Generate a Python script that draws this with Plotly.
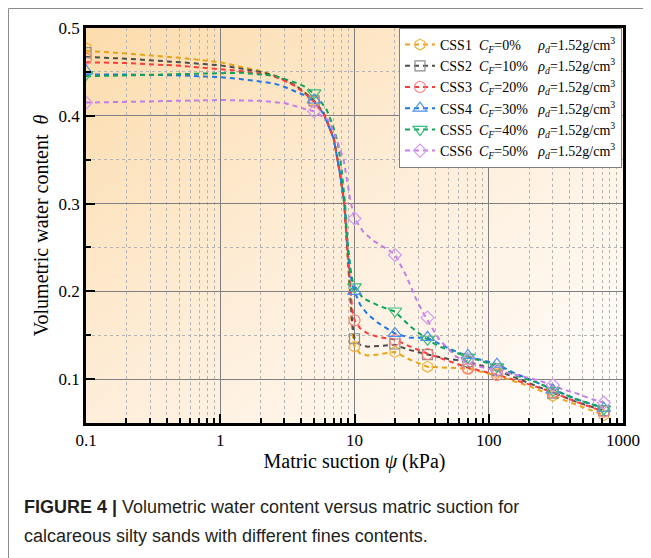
import base64
import plotly.graph_objects as go

# ---------------- data ----------------
series_names = ["CSS1", "CSS2", "CSS3", "CSS4", "CSS5", "CSS6"]
fines = ["0%", "10%", "20%", "30%", "40%", "50%"]

# measured points
x_pts = [0.1, 5, 10, 20, 35, 70, 115, 300, 720]
pts_css1 = [0.477, 0.418, 0.137, 0.131, 0.114, 0.112, 0.107, 0.081, 0.059]
pts_css2 = [0.472, 0.417, 0.146, 0.140, 0.128, 0.120, 0.110, 0.084, 0.064]
pts_css3 = [0.465, 0.416, 0.167, 0.1445, 0.1286, 0.112, 0.1047, 0.085, 0.063]
pts_css4 = [0.451, 0.418, 0.200, 0.152, 0.1476, 0.127, 0.117, 0.0876, 0.0668]
pts_css5 = [0.447, 0.426, 0.205, 0.1776, 0.1454, 0.125, 0.114, 0.087, 0.066]
pts_css6 = [0.415, 0.405, 0.283, 0.2414, 0.170, 0.1226, 0.110, 0.0933, 0.0731]

# fitted curves
x_fit_a = [0.1, 0.2, 0.5, 1, 1.4, 2, 2.5, 3, 3.6, 4.3, 5, 5.9, 7, 7.8, 8.4, 8.75,
           9.0, 9.3, 9.6, 10, 11, 12.5, 15, 20, 26, 35, 50, 70, 115, 150, 200, 300, 450, 720]
fit_css1 = [0.474, 0.471, 0.466, 0.461, 0.456, 0.451, 0.446, 0.441, 0.435, 0.426, 0.417, 0.403,
            0.375, 0.334, 0.300, 0.258, 0.230, 0.190, 0.155, 0.137, 0.129, 0.127, 0.128, 0.131,
            0.122, 0.114, 0.113, 0.112, 0.104, 0.098, 0.092, 0.081, 0.071, 0.059]
fit_css2 = [0.467, 0.465, 0.461, 0.4575, 0.454, 0.450, 0.446, 0.441, 0.435, 0.426, 0.417, 0.403,
            0.375, 0.334, 0.300, 0.258, 0.232, 0.200, 0.165, 0.146, 0.139, 0.137, 0.138, 0.139,
            0.133, 0.128, 0.123, 0.120, 0.110, 0.103, 0.095, 0.084, 0.074, 0.064]
fit_css3 = [0.461, 0.460, 0.457, 0.4535, 0.451, 0.448, 0.445, 0.440, 0.434, 0.425, 0.416, 0.402,
            0.374, 0.334, 0.300, 0.258, 0.235, 0.205, 0.180, 0.167, 0.158, 0.152, 0.148, 0.145,
            0.137, 0.129, 0.121, 0.113, 0.105, 0.100, 0.094, 0.085, 0.074, 0.063]
fit_css4 = [0.447, 0.447, 0.446, 0.444, 0.442, 0.439, 0.437, 0.433, 0.428, 0.423, 0.416, 0.402,
            0.374, 0.334, 0.300, 0.258, 0.240, 0.222, 0.208, 0.200, 0.185, 0.174, 0.164, 0.152,
            0.147, 0.147, 0.135, 0.126, 0.117, 0.108, 0.100, 0.088, 0.077, 0.067]
x_fit_5 = [0.1, 0.2, 0.5, 1, 1.4, 2, 2.5, 3, 3.6, 4.3, 5, 5.5, 6.2, 6.9, 7.5, 8.0, 8.5, 8.85,
           9.1, 9.4, 9.7, 10, 11.6, 15.5, 20, 26, 35, 43, 64, 115, 160, 230, 300, 450, 720]
fit_css5 = [0.445, 0.446, 0.447, 0.448, 0.449, 0.447, 0.446, 0.442, 0.438, 0.433, 0.425, 0.418,
            0.407, 0.389, 0.370, 0.340, 0.300, 0.258, 0.238, 0.222, 0.211, 0.205, 0.192, 0.183,
            0.177, 0.160, 0.145, 0.137, 0.1275, 0.115, 0.104, 0.096, 0.088, 0.077, 0.067]
x_fit_6 = [0.1, 0.3, 1, 2, 3, 3.8, 5, 6.4, 7.4, 8.3, 8.8, 9.3, 10, 11.6, 13.7, 16, 20, 24.4, 29,
           34, 43, 57, 68, 86, 115, 145, 230, 300, 360, 450, 565, 720]
fit_css6 = [0.415, 0.4165, 0.418, 0.417, 0.4145, 0.410, 0.405, 0.395, 0.372, 0.350, 0.327, 0.304,
            0.283, 0.268, 0.258, 0.252, 0.2425, 0.217, 0.190, 0.170, 0.1445, 0.1256, 0.121, 0.114,
            0.110, 0.1066, 0.099, 0.093, 0.088, 0.0838, 0.078, 0.073]

x_tick_vals = [0.1, 1, 10, 100, 1000]
x_tick_text = ["0.1", "1", "10", "100", "1000"]
y_tick_vals = [0.1, 0.2, 0.3, 0.4, 0.5]
y_tick_text = ["0.1", "0.2", "0.3", "0.4", "0.5"]

# ---------------- styles ----------------
line_colors = ["#E8A317", "#4D4D4D", "#FF3B3B", "#1F77E8", "#10A35A", "#C77DE8"]
marker_colors = ["#F2B33D", "#8C8C8C", "#FF7B7B", "#4A90F0", "#3DBB7A", "#D49BF0"]
symbols = ["hexagon-open", "square-open", "circle-open", "triangle-up-open",
           "triangle-down-open", "diamond-open"]
sizes = [11, 10, 11, 12, 12, 10]

pts_all = [pts_css1, pts_css2, pts_css3, pts_css4, pts_css5, pts_css6]
fit_x_all = [x_fit_a, x_fit_a, x_fit_a, x_fit_a, x_fit_5, x_fit_6]
fit_y_all = [fit_css1, fit_css2, fit_css3, fit_css4, fit_css5, fit_css6]

DASH = "5px,4px"
OFF = 8  # page body margin offset
W, H = 651 - OFF, 558 - OFF
L, R, T, B = 86 - OFF, 28, 28 - OFF, 558 - 423
PW, PH = W - L - R, H - T - B

fig = go.Figure()

svg = ("<svg xmlns='http://www.w3.org/2000/svg' width='537' height='395' preserveAspectRatio='none'>"
       "<defs><linearGradient id='g' x1='0' y1='0' x2='1' y2='1'>"
       "<stop offset='0' stop-color='#FCDCAC'/>"
       "<stop offset='0.5' stop-color='#FEEEDA'/>"
       "<stop offset='1' stop-color='#FFFFFF'/>"
       "</linearGradient></defs><rect width='537' height='395' fill='url(#g)'/></svg>")
img_src = "data:image/svg+xml;base64," + base64.b64encode(svg.encode()).decode()

for i in range(6):
    fig.add_trace(go.Scatter(x=fit_x_all[i], y=fit_y_all[i], mode="lines",
                             line=dict(color=line_colors[i], width=2, dash=DASH),
                             showlegend=False, hoverinfo="skip"))
for i in range(6):
    fig.add_trace(go.Scatter(x=x_pts, y=pts_all[i], mode="markers",
                             marker=dict(symbol=symbols[i], size=sizes[i], color=marker_colors[i],
                                         line=dict(width=1.2, color=marker_colors[i])),
                             showlegend=False))
for i in range(6):
    pad = "\u2002\u00a0\u00a0\u00a0" if len(fines[i]) == 2 else "\u00a0\u00a0\u00a0"
    label = (f"{series_names[i]}\u00a0\u00a0<i>C</i><sub><i>F</i></sub>={fines[i]}{pad}"
             f"<i>ρ</i><sub><i>d</i></sub>=1.52g/cm<sup>3</sup>")
    fig.add_trace(go.Scatter(x=[None], y=[None], mode="lines+markers", name=label,
                             line=dict(color=line_colors[i], width=2, dash=DASH),
                             marker=dict(symbol=symbols[i], size=sizes[i], color=marker_colors[i],
                                         line=dict(width=1.2, color=marker_colors[i]))))

minor_x = [m * 10 ** e for e in range(-1, 3) for m in range(2, 10)]
minor_y = [0.05, 0.15, 0.25, 0.35, 0.45]


def px2x(p):
    return (p - OFF - L) / PW


def px2y(p):
    return (H - B - (p - OFF)) / PH


fig.update_layout(
    width=W, height=H,
    margin=dict(l=L, r=R, t=T, b=B, autoexpand=False),
    paper_bgcolor="white", plot_bgcolor="white",
    font=dict(family="Liberation Serif, Times New Roman, serif", size=17, color="black"),
    legend=dict(x=px2x(399), y=1, xanchor="left", yanchor="top", bgcolor="white",
                bordercolor="#808080", borderwidth=1, font=dict(size=14),
                itemwidth=30, tracegroupgap=0),
    images=[dict(source=img_src, xref="paper", yref="paper", x=0, y=1, sizex=1, sizey=1,
                 xanchor="left", yanchor="top", sizing="stretch", layer="below")],
    xaxis=dict(type="log", range=[-1, 3], tickvals=x_tick_vals, ticktext=x_tick_text,
               ticks="inside", ticklen=9, tickwidth=2, tickcolor="black",
               showline=True, linewidth=2.5, linecolor="black", mirror=True,
               showgrid=True, gridcolor="#808080", gridwidth=1, zeroline=False,
               minor=dict(tickvals=minor_x, ticks="inside", ticklen=5, tickwidth=1.5,
                          tickcolor="black", showgrid=True, gridcolor="#B4B4B4",
                          griddash="3px,3px", gridwidth=1),
               title=dict(text="Matric suction <i>ψ</i> (kPa)", font=dict(size=20), standoff=3)),
    yaxis=dict(range=[0.05, 0.5], tickvals=y_tick_vals, ticktext=y_tick_text,
               ticks="inside", ticklen=9, tickwidth=2, tickcolor="black",
               showline=True, linewidth=2.5, linecolor="black", mirror=True,
               showgrid=True, gridcolor="#808080", gridwidth=1, zeroline=False,
               minor=dict(tickvals=minor_y, ticks="inside", ticklen=5, tickwidth=1.5,
                          tickcolor="black", showgrid=True, gridcolor="#B4B4B4",
                          griddash="3px,3px", gridwidth=1),
               title=dict(text="Volumetric water content\u00a0\u00a0<i>θ</i>", font=dict(size=20),
                          standoff=5)),
)

cap_font = dict(family="Liberation Sans, Arial, sans-serif", size=18, color="#231F20")
fig.add_annotation(x=px2x(22), y=px2y(507), xref="paper", yref="paper", xanchor="left",
                   yanchor="middle", showarrow=False, font=cap_font,
                   text="<b>FIGURE 4 |</b> Volumetric water content versus matric suction for")
fig.add_annotation(x=px2x(22), y=px2y(536), xref="paper", yref="paper", xanchor="left",
                   yanchor="middle", showarrow=False, font=cap_font,
                   text="calcareous silty sands with different fines contents.")

fig.add_shape(type="line", xref="paper", yref="paper", x0=px2x(8.5), x1=px2x(8.5),
              y0=px2y(8.5), y1=px2y(558), line=dict(color="#8C8C8C", width=1))
fig.add_shape(type="line", xref="paper", yref="paper", x0=px2x(8.5), x1=px2x(651),
              y0=px2y(8.5), y1=px2y(8.5), line=dict(color="#8C8C8C", width=1))

fig.write_html("out.html")
